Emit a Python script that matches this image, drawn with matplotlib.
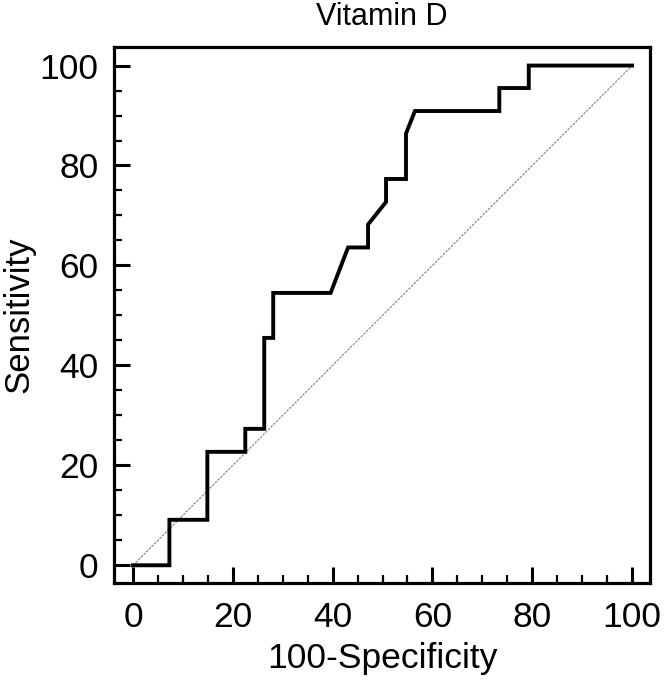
import matplotlib
matplotlib.use('Agg')
import matplotlib.pyplot as plt
from matplotlib.ticker import MultipleLocator

plt.rcParams['font.family'] = ['Liberation Sans', 'DejaVu Sans']

# ROC curve (100-specificity vs sensitivity)
fpr = [0, 7.3, 7.3, 14.9, 14.9, 22.5, 22.5, 26.3, 26.3, 28.1, 28.1, 39.6, 43.1,
       47.1, 47.1, 50.7, 50.7, 54.7, 54.7, 56.5, 73.4, 73.4, 79.3, 79.3, 100]
tpr = [0, 0, 9.1, 9.1, 22.7, 22.7, 27.3, 27.3, 45.5, 45.5, 54.5, 54.5, 63.6,
       63.6, 68.2, 72.7, 77.3, 77.3, 86.4, 90.9, 90.9, 95.5, 95.5, 100, 100]
diag = [0, 100]
ticks = [0, 20, 40, 60, 80, 100]

fig = plt.figure(figsize=(6.64, 6.82), dpi=100)
ax = fig.add_axes([0.1717, 0.1455, 0.8073, 0.7855])

ax.plot(diag, diag, color='#8a8a8a', lw=0.9, linestyle=(0, (2, 1)))
ax.plot(fpr, tpr, color='black', lw=2.8, solid_joinstyle='miter')

ax.set_xlim(-3.8, 103.6)
ax.set_ylim(-3.5, 103.7)
ax.set_xticks(ticks)
ax.set_yticks(ticks)
ax.xaxis.set_minor_locator(MultipleLocator(5))
ax.yaxis.set_minor_locator(MultipleLocator(5))
ax.tick_params(which='major', direction='in', length=11.5, width=2.2,
               labelsize=25.5)
ax.tick_params(which='minor', direction='in', length=5.5, width=1.6)
ax.tick_params(axis='x', which='major', pad=13)
ax.tick_params(axis='y', which='major', pad=11)

for s in ax.spines.values():
    s.set_linewidth(2.3)

ax.set_xlabel('100-Specificity', fontsize=25.5, labelpad=6)
ax.set_ylabel('Sensitivity', fontsize=25, labelpad=3)
ax.set_title('Vitamin D', fontsize=22, pad=16)

fig.savefig('out.png', dpi=100)
